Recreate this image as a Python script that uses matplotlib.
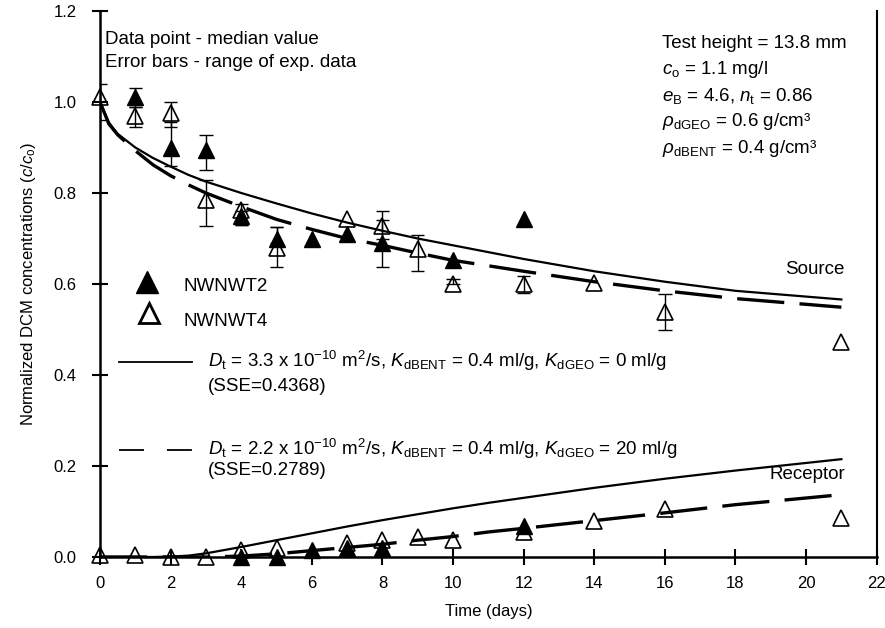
import matplotlib
matplotlib.use("Agg")
import matplotlib.pyplot as plt
import numpy as np

plt.rcParams['font.family'] = ['Liberation Sans', 'DejaVu Sans']
plt.rcParams['mathtext.fontset'] = 'custom'
plt.rcParams['mathtext.rm'] = 'Liberation Sans'
plt.rcParams['mathtext.it'] = 'Liberation Sans:italic'
plt.rcParams['mathtext.bf'] = 'Liberation Sans:bold'
plt.rcParams['lines.scale_dashes'] = False

# source cell, NWNWT2 (filled) and NWNWT4 (open): median + range
src2_days = [1, 2, 3, 4, 5, 6, 7, 8, 10, 12]
src2_vals = [1.01, 0.90, 0.895, 0.75, 0.70, 0.70, 0.71, 0.69, 0.653, 0.742]
src2_lo = [0.99, 0.86, 0.85, 0.73, 0.69, None, None, 0.638, None, None]
src2_hi = [1.03, 0.955, 0.927, 0.76, 0.726, None, None, 0.74, None, None]

src4_days = [0, 1, 2, 3, 4, 5, 7, 8, 9, 10, 12, 14, 16, 21]
src4_vals = [1.01, 0.97, 0.975, 0.785, 0.763, 0.68, 0.742, 0.727, 0.676, 0.601, 0.601, 0.603, 0.539, 0.473]
src4_lo = [0.96, 0.945, 0.945, 0.728, 0.73, 0.638, None, 0.70, 0.629, 0.60, 0.58, None, 0.50, None]
src4_hi = [1.04, 0.99, 1.0, 0.829, 0.775, 0.726, None, 0.76, 0.708, 0.61, 0.618, None, 0.578, None]

# receptor cell
rec2_days = [4, 5, 6, 7, 8, 12]
rec2_vals = [0.0, 0.0, 0.015, 0.02, 0.02, 0.068]
rec4_days = [0, 1, 2, 3, 4, 5, 7, 8, 9, 10, 12, 14, 16, 21]
rec4_vals = [0.005, 0.005, 0.0, 0.0, 0.015, 0.019, 0.03, 0.037, 0.045, 0.037, 0.056, 0.08, 0.105, 0.085]

# model curves
t_model = [0, 0.25, 0.5, 1, 1.5, 2, 2.5, 3, 4, 5, 6, 7, 8, 9, 10, 11, 12, 14, 16, 18, 21]
src_fit1 = [1.0, 0.955, 0.93, 0.90, 0.877, 0.858, 0.84, 0.825, 0.80, 0.777, 0.755, 0.735, 0.717, 0.70,
            0.685, 0.67, 0.655, 0.628, 0.605, 0.585, 0.566]
src_fit2 = [1.0, 0.952, 0.928, 0.893, 0.862, 0.838, 0.818, 0.80, 0.77, 0.742, 0.72, 0.70, 0.685, 0.668,
            0.652, 0.64, 0.628, 0.605, 0.585, 0.568, 0.549]
rec_fit1 = [0, 0, 0, 0, 0, 0.001, 0.003, 0.008, 0.022, 0.037, 0.052, 0.067, 0.081, 0.094,
            0.107, 0.119, 0.13, 0.152, 0.172, 0.19, 0.215]
rec_fit2 = [0, 0, 0, 0, 0, 0, 0, 0.0, 0.002, 0.007, 0.014, 0.021, 0.028, 0.037,
            0.045, 0.055, 0.063, 0.08, 0.097, 0.115, 0.137]

xticks = np.arange(0, 23, 2)
yticks = [0.0, 0.2, 0.4, 0.6, 0.8, 1.0, 1.2]

fig = plt.figure(figsize=(8.85, 6.28), dpi=100)
ax = fig.add_axes([100 / 885, 1 - 557 / 628, 776.7 / 885, 546 / 628])


def errs(days, lo, hi):
    d = [x for x, l in zip(days, lo) if l is not None]
    l_ = [l for l in lo if l is not None]
    h_ = [h for h in hi if h is not None]
    return np.array(d), l_, h_


for days, lo, hi in [errs(src2_days, src2_lo, src2_hi), errs(src4_days, src4_lo, src4_hi)]:
    ax.vlines(days, lo, hi, color='k', lw=1.0, zorder=2)
    ax.hlines(lo, days - 0.19, days + 0.19, color='k', lw=1.0, zorder=2)
    ax.hlines(hi, days - 0.19, days + 0.19, color='k', lw=1.0, zorder=2)

mk = dict(marker='^', ms=11, ls='none', clip_on=False, zorder=4)
ax.plot(src2_days, src2_vals, mfc='k', mec='k', **mk)
ax.plot(src4_days, src4_vals, mfc='none', mec='k', mew=1.2, **mk)
ax.plot(rec2_days, rec2_vals, mfc='k', mec='k', **mk)
ax.plot(rec4_days, rec4_vals, mfc='none', mec='k', mew=1.2, **mk)

ax.plot(t_model, src_fit1, color='k', lw=1.6, zorder=3)
ax.plot(t_model, rec_fit1, color='k', lw=1.6, zorder=3)
ax.plot(t_model, src_fit2, color='k', lw=2.4, dashes=(34, 11), zorder=3)
ax.plot(t_model, rec_fit2, color='k', lw=2.4, dashes=(34, 11), zorder=3)

ax.set_xlim(0, 22)
ax.set_ylim(0, 1.2)
ax.set_xticks(xticks)
ax.set_yticks(yticks)
ax.set_yticklabels(['%.1f' % v for v in yticks])
ax.tick_params(direction='inout', length=12, width=1.5, labelsize=12)
ax.tick_params(axis='x', pad=8)
ax.tick_params(axis='y', pad=11)
ax.spines['top'].set_visible(False)
for s in ['left', 'bottom']:
    ax.spines[s].set_linewidth(1.8)
ax.spines['right'].set_linewidth(1.5)

ax.set_xlabel('Time (days)', fontsize=12, labelpad=9)
ax.set_ylabel('Normalized DCM concentrations ($c$/$c_{\\rm o}$)', fontsize=12, labelpad=11)

tr = ax.transAxes
fs = 13.5
ax.text(0.0064, 0.947, 'Data point - median value', transform=tr, fontsize=fs, va='center')
ax.text(0.0064, 0.905, 'Error bars - range of exp. data', transform=tr, fontsize=fs, va='center')

info = ['Test height = 13.8 mm',
        '$c_{\\rm o}$ = 1.1 mg/l',
        '$e_{\\rm B}$ = 4.6, $n_{\\rm t}$ = 0.86',
        '$\\rho_{\\rm dGEO}$ = 0.6 g/cm³',
        '$\\rho_{\\rm dBENT}$ = 0.4 g/cm³']
for i, s in enumerate(info):
    ax.text(0.723, 0.941 - i * 0.048, s, transform=tr, fontsize=fs, va='center')

ax.text(0.959, 0.526, 'Source', transform=tr, fontsize=fs, ha='right', va='center')
ax.text(0.959, 0.152, 'Receptor', transform=tr, fontsize=fs, ha='right', va='center')

# legend
ax.plot([0.061], [0.504], transform=tr, marker='^', ms=16, mfc='k', mec='k', clip_on=False)
ax.plot([0.0635], [0.446], transform=tr, marker='^', ms=15, mfc='none', mec='k', mew=2, clip_on=False)
ax.text(0.107, 0.495, 'NWNWT2', transform=tr, fontsize=fs, va='center')
ax.text(0.107, 0.431, 'NWNWT4', transform=tr, fontsize=fs, va='center')

ax.plot([0.025, 0.118], [0.357, 0.357], transform=tr, color='k', lw=1.3)
ax.plot([0.025, 0.118], [0.196, 0.196], transform=tr, color='k', lw=1.3, dashes=(18, 16.5))
ax.text(0.139, 0.359, '$D_{\\rm t}$ = 3.3 x 10$^{-10}$ m$^2$/s, $K_{\\rm dBENT}$ = 0.4 ml/g, '
        '$K_{\\rm dGEO}$ = 0 ml/g', transform=tr, fontsize=fs, va='center')
ax.text(0.139, 0.313, '(SSE=0.4368)', transform=tr, fontsize=fs, va='center')
ax.text(0.139, 0.198, '$D_{\\rm t}$ = 2.2 x 10$^{-10}$ m$^2$/s, $K_{\\rm dBENT}$ = 0.4 ml/g, '
        '$K_{\\rm dGEO}$ = 20 ml/g', transform=tr, fontsize=fs, va='center')
ax.text(0.139, 0.158, '(SSE=0.2789)', transform=tr, fontsize=fs, va='center')

fig.savefig('out.png', dpi=100)
